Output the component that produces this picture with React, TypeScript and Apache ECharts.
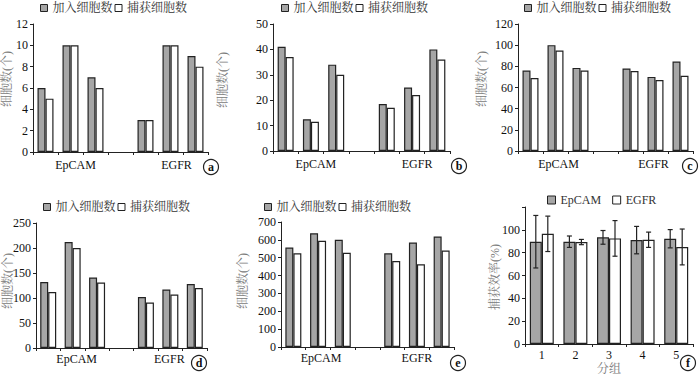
import React, { useEffect, useRef } from "react";
import * as echarts from "echarts";

// ---------- data ----------
const cellCategories = ["E1", "E2", "E3", "gap", "G1", "G2", "G3"];
const groupTickLabels = ["", "EpCAM", "", "", "", "EGFR", ""];
const seriesNames = ["加入细胞数", "捕获细胞数"];
const yAxisTitle = "细胞数(个)";

const addedA = [6, 10, 7, null, 3, 10, 9];
const capturedA = [5, 10, 6, null, 3, 10, 8];
const addedB = [41, 12.5, 34, null, 18.5, 25, 40];
const capturedB = [37, 11.5, 30, null, 17, 22, 36];
const addedC = [76, 100, 78.5, null, 78, 70, 84.5];
const capturedC = [69, 95, 76, null, 75.5, 67, 71];
const addedD = [132, 212, 141, null, 102, 117, 128];
const capturedD = [112, 200, 131, null, 91, 107, 120];
const addedE = [557, 637, 600, null, 525, 585, 619];
const capturedE = [525, 595, 528, null, 482, 463, 540];

const yMaxes = [12, 50, 120, 250, 700];
const yIntervals = [2, 10, 20, 50, 100];
const panelTags = ["a", "b", "c", "d", "e", "f"];

const effGroups = ["1", "2", "3", "4", "5"];
const effNames = ["EpCAM", "EGFR"];
const effEpCAM = [89.6, 89.6, 93.4, 91, 92.2];
const effEpCAMErr = [23, 5, 6, 12, 8];
const effEGFR = [96.5, 89.3, 92.5, 91.3, 85];
const effEGFRErr = [15.5, 2.3, 15.6, 6.7, 15.7];
const effYMax = 120;
const effYInterval = 20;
const effYTitle = "捕获效率(%)";
const effXTitle = "分组";

// ---------- layout / style ----------
const serif = "'Liberation Serif', 'Times New Roman', serif";
const cjk = "'Liberation Serif', 'Noto Serif CJK SC', 'Noto Sans CJK SC', serif";
const GRAY = "#a6a6a6";
const INK = "#222";
const NAME_GRAY = "#7a7a7a";

const layouts = [
  { left: 33, top: 24, width: 175, height: 128, legendLeft: 38, legendTop: 0, nameX: 7, nameY: 79, margin: 7, eShift: 5, gShift: 6, tagX: 211, tagY: 167 },
  { left: 273, top: 24, width: 177, height: 127, legendLeft: 279, legendTop: 0, nameX: 223, nameY: 80, margin: 7, eShift: 5, gShift: 5, tagX: 459, tagY: 166 },
  { left: 518, top: 24, width: 175, height: 127, legendLeft: 522, legendTop: 0, nameX: 482, nameY: 79, margin: 7, eShift: 3, gShift: -2, tagX: 690, tagY: 166 },
  { left: 36, top: 223, width: 171, height: 125, legendLeft: 41, legendTop: 199, nameX: 8, nameY: 281, margin: 5, eShift: 4, gShift: -1, tagX: 199, tagY: 363 },
  { left: 281, top: 222, width: 173, height: 125, legendLeft: 262, legendTop: 199, nameX: 243, nameY: 281, margin: 5, eShift: 3, gShift: 0, tagX: 458, tagY: 363 },
];
const fLayout = { left: 525, top: 207, width: 168, height: 139, nameX: 495, nameY: 277, tagX: 688, tagY: 363 };

const App: React.FC = () => {
  const ref = useRef<HTMLDivElement>(null);

  useEffect(() => {
    if (!ref.current) return;
    const chart = echarts.init(ref.current, undefined, { renderer: "svg" });

    const added = [addedA, addedB, addedC, addedD, addedE];
    const captured = [capturedA, capturedB, capturedC, capturedD, capturedE];

    const grids: any[] = [];
    const xAxes: any[] = [];
    const yAxes: any[] = [];
    const series: any[] = [];
    const legends: any[] = [];
    const graphics: any[] = [];

    const axisLine = { show: true, lineStyle: { color: INK, width: 1 } };
    const axisTick = { show: true, length: 3, lineStyle: { color: INK } };

    const yName = (text: string, x: number, y: number) => ({
      type: "text",
      x,
      y,
      rotation: Math.PI / 2,
      style: { text, fontFamily: cjk, fontSize: 12, fill: NAME_GRAY, align: "center", verticalAlign: "middle" },
      z: 50,
    });
    const tag = (t: string, x: number, y: number) => [
      { type: "circle", shape: { cx: x, cy: y, r: 7.5 }, style: { fill: "#fff", stroke: INK, lineWidth: 1.2 }, z: 100 },
      {
        type: "text",
        x,
        y,
        style: { text: t, fontFamily: serif, fontSize: 12, fontWeight: "bold", fill: "#111", align: "center", verticalAlign: "middle" },
        z: 101,
      },
    ];

    layouts.forEach((l, i) => {
      grids.push({ left: l.left, top: l.top, width: l.width, height: l.height, containLabel: false });
      xAxes.push({
        type: "category",
        gridIndex: i,
        data: cellCategories,
        axisLine,
        axisTick: { ...axisTick, alignWithLabel: false, interval: 0 },
        axisLabel: {
          interval: 0,
          margin: l.margin,
          fontFamily: serif,
          fontSize: 12,
          color: "#111",
          formatter: (_v: string, idx: number) =>
            groupTickLabels[idx] === "EpCAM" ? "{e|EpCAM}" : groupTickLabels[idx] === "EGFR" ? "{g|EGFR}" : "",
          rich: {
            e: { fontFamily: serif, fontSize: 12, color: "#111", padding: [0, 0, 0, Math.max(0, l.eShift * 2)] },
            g: {
              fontFamily: serif,
              fontSize: 12,
              color: "#111",
              padding: l.gShift >= 0 ? [0, 0, 0, l.gShift * 2] : [0, -l.gShift * 2, 0, 0],
            },
          },
        },
        splitLine: { show: false },
      });
      yAxes.push({
        type: "value",
        gridIndex: i,
        min: 0,
        max: yMaxes[i],
        interval: yIntervals[i],
        axisLine,
        axisTick,
        axisLabel: { margin: 5, fontFamily: serif, fontSize: 12, color: "#111" },
        splitLine: { show: false },
      });
      series.push({
        type: "bar",
        name: seriesNames[0],
        xAxisIndex: i,
        yAxisIndex: i,
        data: added[i],
        barWidth: 8,
        barGap: "0%",
        itemStyle: { color: GRAY, borderColor: INK, borderWidth: 1.2 },
      });
      series.push({
        type: "bar",
        name: seriesNames[1],
        xAxisIndex: i,
        yAxisIndex: i,
        data: captured[i],
        barWidth: 8,
        barGap: "0%",
        itemStyle: { color: "#fff", borderColor: INK, borderWidth: 1.2 },
      });
      legends.push({
        left: l.legendLeft,
        top: l.legendTop,
        icon: "rect",
        itemWidth: 7,
        itemHeight: 7,
        itemGap: 2,
        selectedMode: false,
        padding: 2,
        textStyle: { fontFamily: cjk, fontSize: 12, color: "#333" },
        data: [
          { name: seriesNames[0], itemStyle: { color: GRAY, borderColor: INK, borderWidth: 1 } },
          { name: seriesNames[1], itemStyle: { color: "#fff", borderColor: INK, borderWidth: 1 } },
        ],
      });
      graphics.push(yName(yAxisTitle, l.nameX, l.nameY), ...tag(panelTags[i], l.tagX, l.tagY));
    });

    // panel f
    const fi = 5;
    grids.push({ left: fLayout.left, top: fLayout.top, width: fLayout.width, height: fLayout.height });
    xAxes.push({
      type: "category",
      gridIndex: fi,
      data: effGroups,
      name: effXTitle,
      nameLocation: "middle",
      nameGap: 19,
      nameTextStyle: { fontFamily: cjk, fontSize: 12, color: NAME_GRAY },
      axisLine,
      axisTick: { ...axisTick },
      axisLabel: { margin: 5, fontFamily: serif, fontSize: 12, color: "#111" },
    });
    yAxes.push({
      type: "value",
      gridIndex: fi,
      min: 0,
      max: effYMax,
      interval: effYInterval,
      axisLine,
      axisTick,
      axisLabel: {
        margin: 5,
        fontFamily: serif,
        fontSize: 12,
        color: "#111",
        formatter: (v: number) => (v >= effYMax ? "" : String(v)),
      },
      splitLine: { show: false },
    });
    const effBarW = 12;
    series.push({
      type: "bar",
      name: effNames[0],
      xAxisIndex: fi,
      yAxisIndex: fi,
      data: effEpCAM,
      barWidth: effBarW,
      barGap: "0%",
      itemStyle: { color: GRAY, borderColor: INK, borderWidth: 1.2 },
    });
    series.push({
      type: "bar",
      name: effNames[1],
      xAxisIndex: fi,
      yAxisIndex: fi,
      data: effEGFR,
      barWidth: effBarW,
      barGap: "0%",
      itemStyle: { color: "#fff", borderColor: INK, borderWidth: 1.2 },
    });
    const errSeries = (vals: number[], errs: number[], offset: number, name: string) => ({
      type: "custom",
      name,
      xAxisIndex: fi,
      yAxisIndex: fi,
      z: 10,
      data: vals.map((v, i) => [i, v, errs[i]]),
      encode: { x: 0, y: 1 },
      renderItem: (_p: any, api: any) => {
        const x = api.value(0);
        const v = api.value(1);
        const e = api.value(2);
        const hi = api.coord([x, v + e]);
        const lo = api.coord([x, v - e]);
        const cx = hi[0] + offset;
        const cap = 2.5;
        const st = { stroke: INK, lineWidth: 1.2 };
        return {
          type: "group",
          children: [
            { type: "line", shape: { x1: cx, y1: hi[1], x2: cx, y2: lo[1] }, style: st },
            { type: "line", shape: { x1: cx - cap, y1: hi[1], x2: cx + cap, y2: hi[1] }, style: st },
            { type: "line", shape: { x1: cx - cap, y1: lo[1], x2: cx + cap, y2: lo[1] }, style: st },
          ],
        };
      },
    });
    series.push(errSeries(effEpCAM, effEpCAMErr, -effBarW / 2, "EpCAM-err"));
    series.push(errSeries(effEGFR, effEGFRErr, effBarW / 2, "EGFR-err"));
    legends.push({
      left: 545,
      top: 192,
      icon: "rect",
      itemWidth: 8,
      itemHeight: 8,
      itemGap: 11,
      selectedMode: false,
      padding: 2,
      textStyle: { fontFamily: serif, fontSize: 12, color: "#333" },
      data: [
        { name: effNames[0], itemStyle: { color: GRAY, borderColor: INK, borderWidth: 1 } },
        { name: effNames[1], itemStyle: { color: "#fff", borderColor: INK, borderWidth: 1 } },
      ],
    });
    graphics.push(yName(effYTitle, fLayout.nameX, fLayout.nameY), ...tag(panelTags[5], fLayout.tagX, fLayout.tagY));

    chart.setOption({
      animation: false,
      backgroundColor: "#fff",
      grid: grids,
      xAxis: xAxes,
      yAxis: yAxes,
      legend: legends,
      series,
      graphic: graphics,
    });

    return () => chart.dispose();
  }, []);

  return (
    <div
      ref={ref}
      style={{ position: "absolute", left: 0, top: 0, width: 700, height: 376, background: "#fff" }}
    />
  );
};

export default App;
